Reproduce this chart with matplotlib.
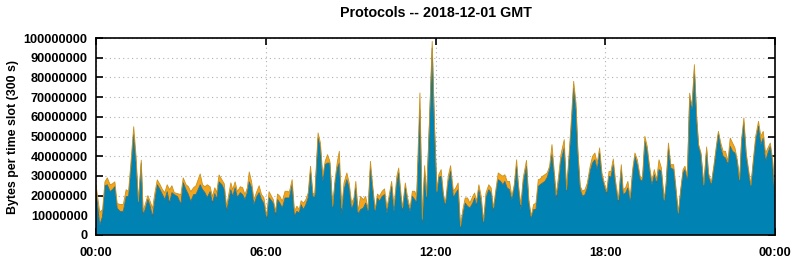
import numpy as np
import matplotlib
matplotlib.use("Agg")
from matplotlib import pyplot as plt
from matplotlib.ticker import FuncFormatter

# time of day (minutes), bottom series and top of stack (millions of bytes)
minutes = [0, 8, 14, 19, 24, 30, 35, 40, 45, 51, 58, 64, 69, 74, 80, 85, 90, 96, 100, 105,
           110, 115, 120, 125, 130, 136, 141, 146, 151, 156, 161, 166, 173, 180, 185, 191, 196, 201, 207, 212,
           221, 226, 231, 236, 242, 247, 252, 256, 261, 267, 272, 277, 286, 290, 295, 300, 306, 311, 316, 321,
           325, 330, 335, 341, 346, 351, 356, 362, 367, 376, 381, 385, 390, 395, 401, 406, 410, 416, 421, 426,
           431, 435, 440, 445, 450, 455, 460, 464, 471, 476, 481, 486, 491, 496, 502, 507, 512, 516, 521, 526,
           532, 537, 542, 547, 551, 556, 561, 567, 572, 577, 582, 587, 592, 597, 601, 607, 612, 617, 622, 627,
           632, 638, 642, 646, 650, 656, 661, 666, 671, 676, 680, 687, 692, 697, 701, 707, 713, 718, 723, 727,
           732, 737, 741, 747, 752, 758, 763, 768, 773, 778, 783, 788, 793, 799, 803, 807, 812, 817, 822, 827,
           833, 838, 843, 848, 853, 858, 863, 867, 872, 877, 882, 887, 892, 896, 901, 906, 913, 918, 923, 928,
           933, 938, 942, 947, 952, 957, 962, 967, 972, 976, 981, 986, 993, 998, 1003, 1008, 1013, 1018, 1022, 1027,
           1032, 1037, 1042, 1048, 1053, 1058, 1063, 1068, 1073, 1078, 1083, 1088, 1092, 1097, 1102, 1108, 1114, 1118, 1123, 1128,
           1133, 1138, 1143, 1148, 1154, 1159, 1164, 1169, 1174, 1179, 1184, 1189, 1194, 1199, 1205, 1209, 1214, 1219, 1225, 1229,
           1235, 1240, 1245, 1249, 1254, 1259, 1264, 1269, 1274, 1278, 1283, 1289, 1295, 1299, 1305, 1311, 1316, 1320, 1325, 1330,
           1335, 1340, 1345, 1350, 1355, 1360, 1365, 1369, 1374, 1379, 1385, 1389, 1394, 1399, 1405, 1410, 1415, 1420, 1425, 1430,
           1435, 1440]

blue = [23, 5, 9.5, 25, 25.5, 22, 23, 24.5, 13.5, 12, 12, 19.5, 19.5, 33, 51, 36.5, 16, 36.5, 10, 13.5,
        18, 14.5, 9, 18, 25.5, 23, 20.5, 18, 22, 16, 21.5, 20.5, 19.5, 15.5, 26.5, 23, 20.5, 17, 20.5, 20.5,
        25.5, 23, 21.5, 19, 22, 16, 21, 18, 27, 25.5, 23, 12, 23, 19.5, 24, 19, 21.5, 20.5, 18, 21.5,
        27, 24, 15.5, 19.5, 21.5, 18, 16, 8, 19, 16.2, 9.5, 18, 16.2, 13.7, 18.8, 18.8, 18.8, 25.5, 9.5, 12,
        11.2, 15.4, 12.9, 15.4, 18.8, 32.3, 19.6, 18.8, 49.2, 44.2, 27.2, 35.7, 36.5, 36.5, 13.7, 26.4, 34, 36.5, 10.3, 23,
        28.1, 23.9, 12.9, 16.2, 23.9, 10.3, 12.9, 13.7, 16.2, 12, 34, 23, 12, 18.8, 17.1, 19.6, 20.5, 11.2, 17.9, 24.7,
        12, 26.4, 31.5, 20.5, 12, 23.9, 16.2, 12, 19.6, 18, 16.2, 63.6, 6, 32.3, 18, 55.2, 94.9, 53.5, 21.3, 29.3,
        29.8, 18.8, 15.4, 26.4, 32.3, 18.8, 21.3, 23, 3.6, 10.3, 16.2, 14.6, 13.7, 16.2, 18.8, 14.6, 23, 16.2, 6.1, 18.8,
        23, 21.3, 12, 21.3, 28.1, 27.2, 25.5, 27.2, 23.9, 23, 17.9, 23.9, 34.9, 23, 12.9, 26.4, 34.9, 16.2, 8.6, 12.9,
        12.9, 24.7, 25.5, 26.4, 27.2, 29.3, 33.2, 40.8, 29.8, 17.9, 25.5, 37.4, 44.2, 22.2, 37.4, 54.3, 74.6, 63.6, 40.8, 23,
        19.6, 20.5, 23.9, 32.3, 36.5, 38.2, 33.2, 41.6, 29.3, 24.7, 20.5, 29.8, 29.3, 35.7, 24.7, 16.2, 33.2, 20.5, 21.3, 23.9,
        17.1, 30.6, 39.9, 35.7, 28.1, 27.2, 47.5, 42.5, 33.2, 25.5, 30.6, 26.1, 33.2, 32.3, 17.1, 24.7, 44.2, 34, 33.2, 24.7,
        10.3, 22.2, 31.5, 33.2, 28.1, 69.5, 63.6, 83.9, 57.7, 45, 40.8, 24.7, 43.3, 29.8, 25.5, 34.9, 44.2, 51.8, 44.2, 39.9,
        39.1, 35.7, 45, 42.5, 41.6, 37.4, 27.2, 46.7, 56.9, 39.9, 29.8, 24.7, 36.5, 47.5, 55.2, 45.9, 49.2, 37.4, 41.6, 45,
        36.5, 16.2]

top = [25.5, 11.5, 13, 27, 29, 25.5, 26, 27, 16, 15.5, 15.5, 23, 22, 36.5, 55, 40, 17, 38, 12, 16,
       20, 17, 13.5, 21.5, 28, 25.5, 23, 21.5, 25.5, 23, 25, 21.5, 21, 20.5, 29, 25.5, 24.5, 22, 24, 25,
       31, 25.5, 24.5, 25.5, 24.5, 19.5, 24, 21.5, 30.5, 28, 26, 14.5, 26.5, 23, 27, 22, 24.5, 24, 20.5, 24,
       32, 27, 18, 22, 25, 20.5, 19, 9.5, 22, 17.9, 12, 20.8, 19.6, 17.1, 22.2, 22.2, 21.7, 28.1, 12, 14.6,
       12.9, 17.4, 16.2, 17.9, 21.3, 34.9, 21.3, 20.5, 51.8, 46.7, 29.8, 37.4, 40.8, 37.4, 14.6, 28.1, 37.4, 42.5, 13.7, 26.4,
       31.5, 26.4, 16.2, 18.8, 27.2, 12, 19.6, 17.9, 19.6, 12.9, 37.4, 24.7, 12.9, 20.8, 19.6, 22.2, 23.4, 13.7, 20.5, 27.2,
       14.6, 29.8, 34, 23, 13.7, 26.4, 18.8, 13.7, 22.2, 22.2, 19.6, 72.1, 8, 35.2, 19.6, 56.9, 98.3, 55.2, 22.2, 30.6,
       33.2, 20.5, 16.2, 29.8, 35.2, 22.2, 23.9, 26.4, 4.4, 12.9, 18.8, 18.8, 16.2, 19.6, 21.3, 17.1, 25.5, 19.6, 6.9, 21.3,
       25.5, 23.9, 13.7, 23, 31.5, 30.6, 29.8, 30.6, 27.2, 27.2, 19.6, 25.5, 38.2, 25.5, 15.4, 28.9, 37.9, 17.9, 9.5, 15.4,
       16.2, 28.1, 28.4, 29.8, 30.6, 31.5, 34.9, 45.9, 31.5, 20.5, 29.8, 40.8, 48.4, 23, 39.9, 58.5, 78, 67, 43.3, 24.7,
       22.2, 23, 26.4, 34.9, 39.9, 41.6, 36.5, 44.2, 31.5, 26.4, 22.2, 32.3, 32.3, 38.6, 27.2, 17.9, 35.7, 23, 23.9, 27.2,
       18.8, 33.2, 41.6, 38.2, 29.8, 28.9, 50.1, 45, 34.9, 27.2, 33.2, 28.1, 38.2, 34, 17.9, 26.4, 46.7, 35.7, 35.7, 26.4,
       11.2, 23, 33.2, 34.9, 29.8, 72, 65.3, 86.5, 60.2, 45.9, 41.6, 25.5, 44.7, 31.5, 26.4, 36.5, 45.9, 52.6, 46.7, 42.5,
       42.5, 37.4, 49.2, 46.7, 44.2, 38.2, 28.1, 48.4, 59.4, 41.6, 31.5, 25.5, 38.2, 50.1, 57.7, 50.1, 52.6, 41.6, 44.2, 46.7,
       38.2, 21.3]

xtick_pos = [0, 360, 720, 1080, 1440]
xtick_labels = ["00:00", "06:00", "12:00", "18:00", "00:00"]
title = "Protocols -- 2018-12-01 GMT"
ylabel = "Bytes per time slot (300 s)"

plt.rcParams['font.family'] = ['Liberation Sans', 'DejaVu Sans']
plt.rcParams['font.weight'] = 'bold'

t = np.array(minutes)
b = np.array(blue) * 1e6
o = (np.array(top) - np.array(blue)) * 1e6

fig = plt.figure(figsize=(7.94, 2.6), dpi=100)
ax = fig.add_axes([0.1209, 0.0962, 0.8552, 0.7576])

ax.stackplot(t, b, o, colors=["#0083b3", "#f5a51c"], linewidth=0)
ax.plot(t, b, color="#2a6f86", linewidth=0.6)
ax.plot(t, b + o, color="#c9921e", linewidth=0.6)

ax.set_xlim(0, 1440)
ax.set_ylim(0, 1e8)
ax.set_xticks(xtick_pos)
ax.set_xticklabels(xtick_labels)
ax.set_yticks(np.arange(0, 1.0001e8, 1e7))
ax.yaxis.set_major_formatter(FuncFormatter(lambda v, p: "%d" % round(v)))
ax.tick_params(direction="in", length=5, width=1.2, top=True, right=True,
               labelsize=9.2)
ax.tick_params(axis="x", pad=9)
ax.tick_params(axis="y", pad=6)
for lab in ax.get_xticklabels() + ax.get_yticklabels():
    lab.set_fontweight("bold")
ax.grid(True, color="#b0b0b0", linestyle=(0, (1, 3)), linewidth=0.8)
ax.set_axisbelow(True)
for s in ax.spines.values():
    s.set_linewidth(1.2)

ax.set_title(title, fontsize=10.3, fontweight="bold", pad=15)
ax.set_ylabel(ylabel, fontsize=8.9, fontweight="bold", labelpad=3)

fig.savefig("out.png", dpi=100)
